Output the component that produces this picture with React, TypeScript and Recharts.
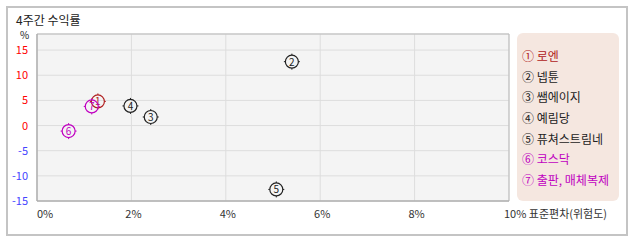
import { ScatterChart, Scatter, XAxis, YAxis, CartesianGrid, ReferenceArea } from 'recharts'

const names = ['로엔', '넵튠', '쌤에이지', '예림당', '퓨쳐스트림네', '코스닥', '출판, 매체복제']
const marks = ['①', '②', '③', '④', '⑤', '⑥', '⑦']
const riskX = [1.29, 5.4, 2.41, 1.98, 5.07, 0.67, 1.16]
const returnY = [4.8, 12.7, 1.7, 3.9, -12.7, -1.1, 3.8]
const colors = ['#b02020', '#222222', '#222222', '#222222', '#222222', '#c000c0', '#c000c0']
const xTicks = [0, 2, 4, 6, 8, 10]
const yTicks = [-15, -10, -5, 0, 5, 10, 15]

const FONT = '"Noto Sans CJK KR", "Noto Sans", sans-serif'

const series = names.map((name, i) => ({
  name,
  mark: marks[i],
  color: colors[i],
  data: [{ x: riskX[i], y: returnY[i] }],
}))

// circle marker with small cross ticks and the number inside
const makeShape = (num: number, color: string) => (props: any) => {
  const { cx, cy } = props
  if (cx == null || cy == null) return <g />
  const r = 6.5
  return (
    <g>
      <circle cx={cx} cy={cy} r={r} fill="none" stroke={color} strokeWidth={1.2} />
      <line x1={cx} y1={cy - r - 1.5} x2={cx} y2={cy - r} stroke={color} />
      <line x1={cx} y1={cy + r} x2={cx} y2={cy + r + 1.5} stroke={color} />
      <line x1={cx - r - 1.5} y1={cy} x2={cx - r} y2={cy} stroke={color} />
      <line x1={cx + r} y1={cy} x2={cx + r + 1.5} y2={cy} stroke={color} />
      <text x={cx} y={cy + 4} textAnchor="middle" fontSize={10} fill={color} fontFamily={FONT}>
        {num}
      </text>
    </g>
  )
}

const XTick = (props: any) => {
  const { x, y, payload } = props
  const v = payload.value
  if (v === 0) {
    return (
      <text x={x} y={y + 9} textAnchor="start" fontSize={11} fill="#333" fontFamily={FONT}>0%</text>
    )
  }
  if (v === 10) {
    return (
      <text x={x - 5} y={y + 9} textAnchor="start" fontSize={11} fill="#333" fontFamily={FONT}>10% 표준편차(위험도)</text>
    )
  }
  return (
    <text x={x + 2} y={y + 9} textAnchor="middle" fontSize={11} fill="#333" fontFamily={FONT}>{v}%</text>
  )
}

const YTick = (props: any) => {
  const { x, y, payload } = props
  const v = payload.value
  return (
    <text x={x - 1} y={y + 4} textAnchor="end" fontSize={11} fill={v >= 0 ? '#ff0000' : '#4444ff'} fontFamily={FONT}>
      {v}
    </text>
  )
}

const LegendBox = () => (
  <div
    style={{
      position: 'absolute',
      left: 517,
      top: 33,
      width: 102,
      height: 168,
      background: '#f5e7e0',
      borderRadius: 6,
      boxSizing: 'border-box',
      paddingTop: 13,
      paddingLeft: 5,
      fontFamily: FONT,
      fontSize: 12,
    }}
  >
    {series.map((s) => (
      <div key={s.name} style={{ color: s.color, height: 20.7, lineHeight: '20px', whiteSpace: 'nowrap' }}>
        {s.mark} {s.name}
      </div>
    ))}
  </div>
)

export default function App() {
  return (
    <div style={{ position: 'absolute', left: 0, top: 0, width: 638, height: 242, background: '#fff', fontFamily: FONT }}>
      <div style={{ position: 'absolute', left: 16, top: 11, fontSize: 12, color: '#222' }}>4주간 수익률</div>
      <div style={{ position: 'absolute', left: 20, top: 27, fontSize: 10, color: '#222' }}>%</div>
      <div style={{ position: 'absolute', left: 0, top: 0 }}>
        <ScatterChart width={638} height={242} margin={{ top: 34, right: 129, bottom: 0, left: 0 }}>
          <CartesianGrid stroke="#dddddd" fill="#f4f4f4" horizontal vertical />
          <XAxis
            type="number"
            dataKey="x"
            domain={[0, 10]}
            ticks={xTicks}
            tick={<XTick />}
            tickLine={false}
            axisLine={{ stroke: '#aaaaaa' }}
            height={41}
            interval={0}
          />
          <YAxis
            type="number"
            dataKey="y"
            domain={[-15, 18.2]}
            ticks={yTicks}
            tick={<YTick />}
            tickLine={false}
            axisLine={{ stroke: '#aaaaaa' }}
            width={37}
            interval={0}
          />
          <ReferenceArea x1={0} x2={10} y1={-15} y2={18.2} fill="none" stroke="#bbbbbb" ifOverflow="visible" />
          {series.map((s, i) => (
            <Scatter
              key={s.name}
              name={s.name}
              data={s.data}
              fill={s.color}
              shape={makeShape(i + 1, s.color)}
              isAnimationActive={false}
            />
          ))}
        </ScatterChart>
      </div>
      <LegendBox />
      <div
        style={{
          position: 'absolute',
          left: 6,
          top: 6,
          width: 622,
          height: 230,
          border: '2px solid #c4c4c4',
          boxSizing: 'border-box',
          pointerEvents: 'none',
        }}
      />
    </div>
  )
}
